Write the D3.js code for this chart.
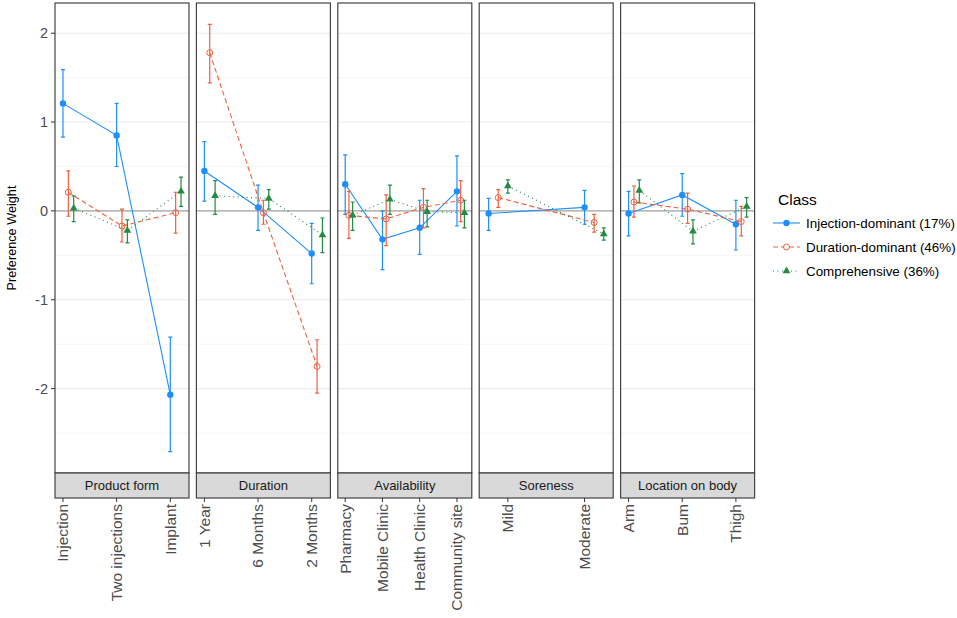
<!DOCTYPE html>
<html><head><meta charset="utf-8">
<script src="https://cdn.jsdelivr.net/npm/d3@7"></script>
<style>body{margin:0;background:#fff;} text{font-family:"Liberation Sans",Arial,sans-serif;}</style>
</head><body><svg id="chart" width="957" height="618"></svg>
<script>
const attributes = ["Product form","Duration","Availability","Soreness","Location on body"];
const levels = [
  ["Injection","Two injections","Implant"],
  ["1 Year","6 Months","2 Months"],
  ["Pharmacy","Mobile Clinic","Health Clinic","Community site"],
  ["Mild","Moderate"],
  ["Arm","Bum","Thigh"]
];
const classNames = ["Injection-dominant (17%)","Duration-dominant (46%)","Comprehensive (36%)"];
// estimates, lower and upper bounds per attribute
const injEst = [[1.21,0.85,-2.07],[0.45,0.04,-0.48],[0.30,-0.32,-0.19,0.22],[-0.03,0.04],[-0.03,0.18,-0.15]];
const injLo  = [[0.83,0.50,-2.71],[0.11,-0.22,-0.82],[-0.04,-0.66,-0.49,-0.17],[-0.22,-0.15],[-0.28,-0.06,-0.44]];
const injHi  = [[1.59,1.21,-1.42],[0.78,0.29,-0.14],[0.63,0.00,0.12,0.62],[0.14,0.23],[0.22,0.42,0.12]];
const durEst = [[0.21,-0.17,-0.02],[1.78,-0.02,-1.75],[-0.05,-0.09,0.04,0.12],[0.15,-0.13],[0.10,0.02,-0.12]];
const durLo  = [[-0.06,-0.35,-0.25],[1.44,-0.15,-2.05],[-0.31,-0.39,-0.19,-0.12],[0.04,-0.24],[-0.07,-0.14,-0.28]];
const durHi  = [[0.45,0.02,0.21],[2.10,0.12,-1.45],[0.22,0.18,0.25,0.34],[0.24,-0.04],[0.28,0.20,0.05]];
const comEst = [[0.03,-0.22,0.22],[0.17,0.14,-0.27],[-0.05,0.13,-0.01,-0.02],[0.28,-0.26],[0.23,-0.23,0.05]];
const comLo  = [[-0.12,-0.36,0.05],[-0.04,0.02,-0.47],[-0.22,-0.04,-0.18,-0.19],[0.20,-0.33],[0.09,-0.37,-0.07]];
const comHi  = [[0.17,-0.10,0.38],[0.34,0.24,-0.08],[0.10,0.29,0.12,0.12],[0.35,-0.19],[0.35,-0.10,0.15]];
const yTicks = [-2,-1,0,1,2];
const yMinor = [-2.5,-1.5,-0.5,0.5,1.5];
// where each attribute's axis tick sits (in level units, 1-based)
const tickPos = [[1,2,3],[1,2,3],[1,2,3,4],[1.2,2],[1,2,3]];

const series = [
  {name:classNames[0], est:injEst, lo:injLo, hi:injHi, color:"#1E8FFF", dash:null, shape:"dot"},
  {name:classNames[1], est:durEst, lo:durLo, hi:durHi, color:"#F2603F", dash:"5,3", shape:"open"},
  {name:classNames[2], est:comEst, lo:comLo, hi:comHi, color:"#238B45", dash:"1,3.5", shape:"tri"}
];

const svg = d3.select("#chart");
const pTop = 3, pBottom = 473, stripH = 25;
const panelLeft = 55, panelW = 134, gap = 7.4;
const y = d3.scaleLinear().domain([-2.95, 2.34]).range([pBottom, pTop]);
const dodge = 0.1, capW = 0.07;

// y axis
const yg = svg.append("g");
yTicks.forEach(t => {
  yg.append("line").attr("x1", panelLeft-4).attr("x2", panelLeft).attr("y1", y(t)).attr("y2", y(t)).attr("stroke","#333").attr("stroke-width",1);
  yg.append("text").attr("x", panelLeft-7).attr("y", y(t)).attr("dy","0.35em").attr("text-anchor","end")
    .attr("font-size",14.5).attr("fill","#4d4d4d").text(t);
});
svg.append("text").attr("transform",`translate(16,${(pTop+pBottom)/2}) rotate(-90)`).attr("text-anchor","middle")
  .attr("font-size",12.7).attr("fill","#000").text("Preference Weight");

attributes.forEach((attr, i) => {
  const x0 = panelLeft + i*(panelW+gap);
  const n = levels[i].length;
  const span = (n - 1 + 2*dodge) + capW;
  const lo = 1 - capW/2 - 0.05*span, hi = n + 2*dodge + capW/2 + 0.05*span;
  const x = d3.scaleLinear().domain([lo, hi]).range([x0, x0+panelW]);
  const g = svg.append("g");
  g.append("rect").attr("x",x0).attr("y",pTop).attr("width",panelW).attr("height",pBottom-pTop).attr("fill","#fff");
  yMinor.forEach(t => g.append("line").attr("x1",x0).attr("x2",x0+panelW).attr("y1",y(t)).attr("y2",y(t)).attr("stroke","#f3f3f3").attr("stroke-width",0.8));
  yTicks.forEach(t => g.append("line").attr("x1",x0).attr("x2",x0+panelW).attr("y1",y(t)).attr("y2",y(t)).attr("stroke","#ebebeb").attr("stroke-width",1.1));
  g.append("line").attr("x1",x0).attr("x2",x0+panelW).attr("y1",y(0)).attr("y2",y(0)).attr("stroke","#a6a6a6").attr("stroke-width",1.3);

  series.forEach((s, si) => {
    const pts = levels[i].map((lv, li) => ({x: x(li+1+si*dodge), e: s.est[i][li], l: s.lo[i][li], h: s.hi[i][li]}));
    const line = d3.line().x(d=>d.x).y(d=>y(d.e));
    g.append("path").datum(pts).attr("d", line).attr("fill","none").attr("stroke", s.color).attr("stroke-width",1.1)
      .attr("stroke-dasharray", s.dash);
    pts.forEach(p => {
      const cw = 2;
      g.append("path").attr("d", `M${p.x},${y(p.h)}V${y(p.l)}M${p.x-cw},${y(p.h)}H${p.x+cw}M${p.x-cw},${y(p.l)}H${p.x+cw}`)
        .attr("stroke", s.color).attr("stroke-width",1.2).attr("fill","none");
    });
    pts.forEach(p => {
      if (s.shape === "dot") g.append("circle").attr("cx",p.x).attr("cy",y(p.e)).attr("r",3.2).attr("fill",s.color);
      else if (s.shape === "open") g.append("circle").attr("cx",p.x).attr("cy",y(p.e)).attr("r",3).attr("fill","none").attr("stroke",s.color).attr("stroke-width",1);
      else g.append("path").attr("d", d3.symbol(d3.symbolTriangle, 26)()).attr("transform",`translate(${p.x},${y(p.e)})`).attr("fill",s.color);
    });
  });

  g.append("rect").attr("x",x0).attr("y",pTop).attr("width",panelW).attr("height",pBottom-pTop).attr("fill","none").attr("stroke","#444").attr("stroke-width",1.2);
  // strip
  g.append("rect").attr("x",x0).attr("y",pBottom).attr("width",panelW).attr("height",stripH).attr("fill","#d9d9d9").attr("stroke","#444").attr("stroke-width",1.2);
  g.append("text").attr("x",x0+panelW/2).attr("y",pBottom+stripH/2).attr("dy","0.35em").attr("text-anchor","middle")
    .attr("font-size",13).attr("fill","#1a1a1a").text(attr);
  // x ticks
  levels[i].forEach((lv, li) => {
    const tx = x(tickPos[i][li]);
    g.append("line").attr("x1",tx).attr("x2",tx).attr("y1",pBottom+stripH).attr("y2",pBottom+stripH+4).attr("stroke","#333");
    g.append("text").attr("transform",`translate(${tx},${pBottom+stripH+6}) rotate(-90)`).attr("dy","0.35em")
      .attr("text-anchor","end").attr("font-size",15.5).attr("fill","#4d4d4d").text(lv);
  });
});

// legend
const lg = svg.append("g");
lg.append("text").attr("x",778).attr("y",205).attr("font-size",15.5).attr("fill","#000").text("Class");
series.forEach((s, si) => {
  const ly = 223 + si*24;
  lg.append("line").attr("x1",773).attr("x2",800).attr("y1",ly).attr("y2",ly).attr("stroke",s.color).attr("stroke-width",1.1).attr("stroke-dasharray",s.dash);
  if (s.shape === "dot") lg.append("circle").attr("cx",786.5).attr("cy",ly).attr("r",3.2).attr("fill",s.color);
  else if (s.shape === "open") lg.append("circle").attr("cx",786.5).attr("cy",ly).attr("r",3).attr("fill","#fff").attr("stroke",s.color);
  else lg.append("path").attr("d", d3.symbol(d3.symbolTriangle, 26)()).attr("transform",`translate(786.5,${ly})`).attr("fill",s.color);
  lg.append("text").attr("x",806).attr("y",ly).attr("dy","0.35em").attr("font-size",13.4).attr("fill","#000").text(s.name);
});
</script></body></html>
